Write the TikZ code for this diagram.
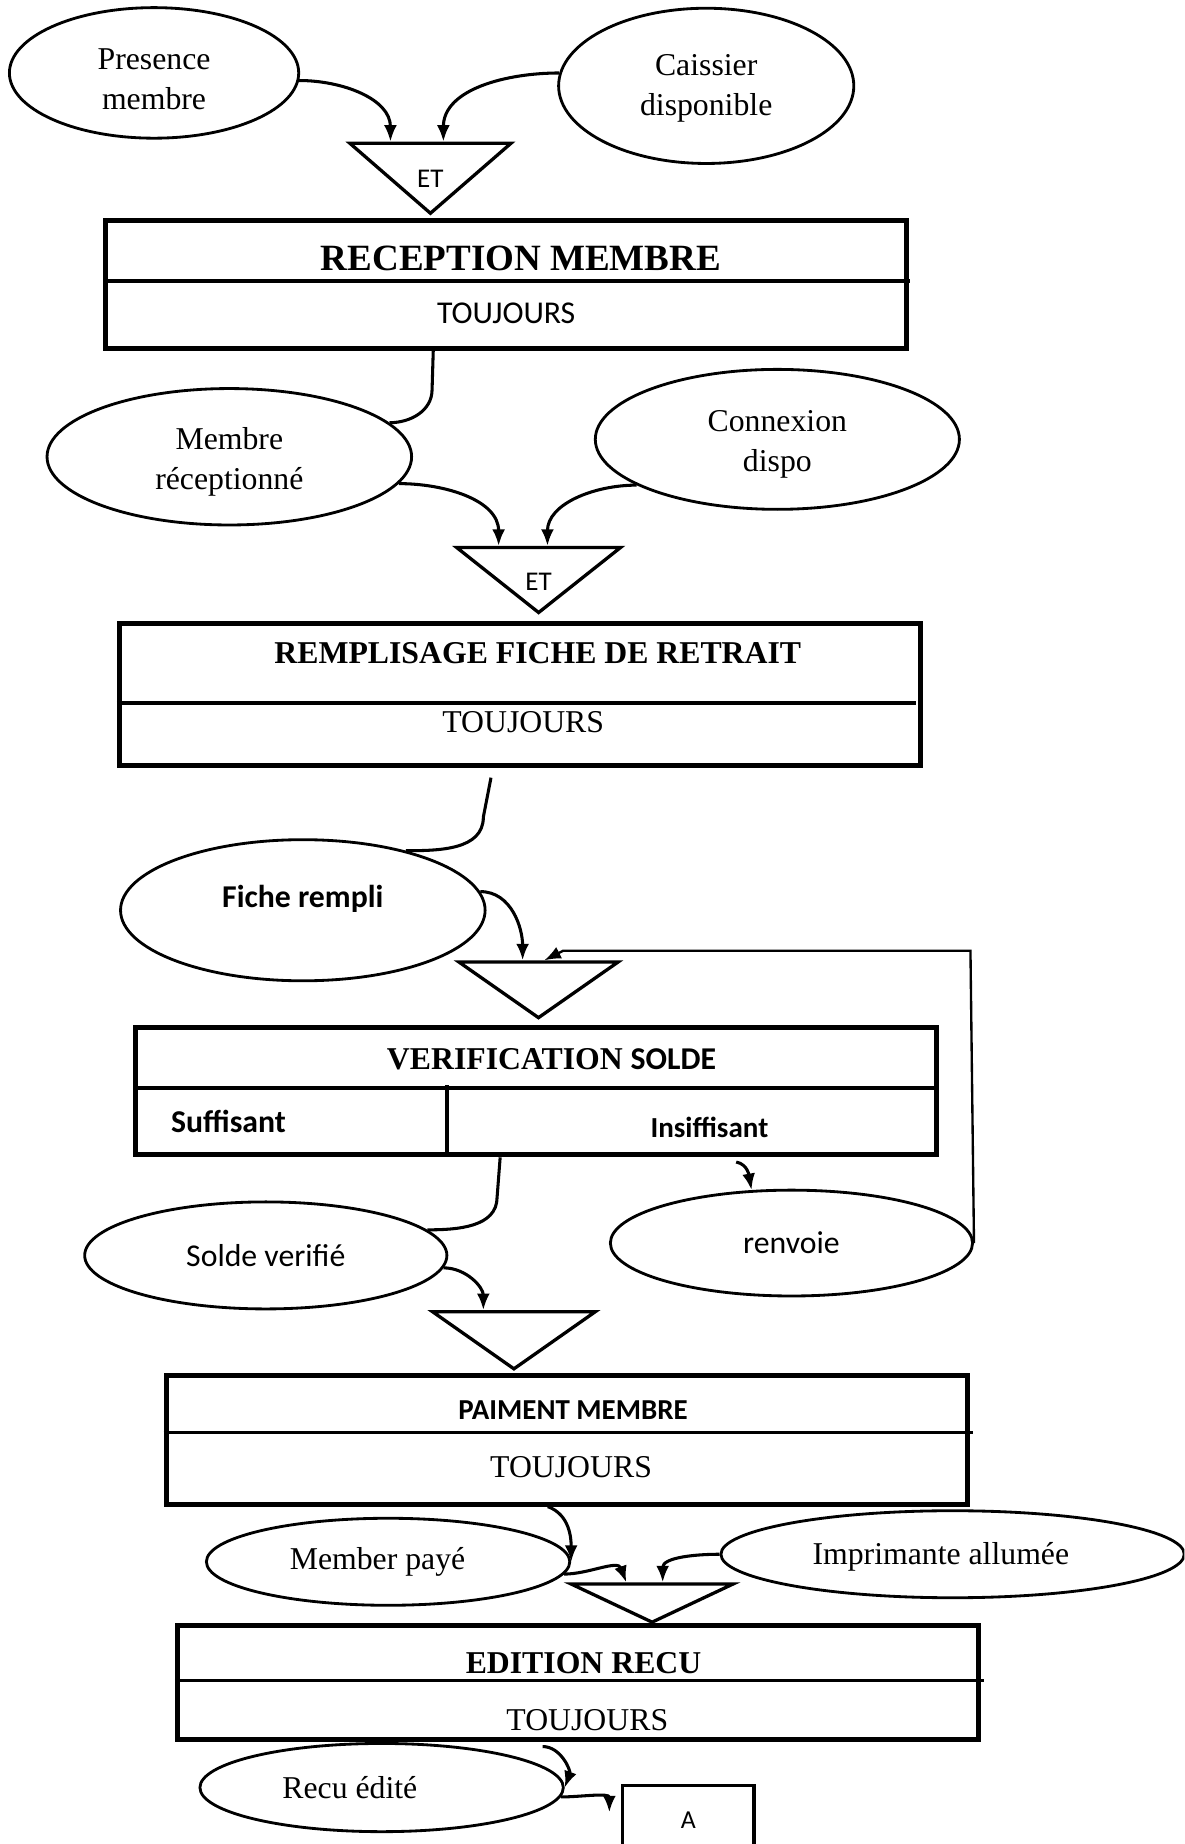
\documentclass[tikz,border=0pt]{standalone}
\usepackage{fontspec}
\setmainfont{Liberation Serif}
\newfontfamily\calibri{Carlito}
\usetikzlibrary{shapes.geometric,arrows.meta}

\begin{document}
\begin{tikzpicture}[x=1pt, y=-1pt,
  font=\fontsize{27}{34}\selectfont,
  etat/.style={ellipse, draw, line width=2.4pt, align=center, inner sep=0pt},
  porte/.style={isosceles triangle, isosceles triangle stretches,
    shape border rotate=270, draw, line width=2.8pt, inner sep=0pt, anchor=apex},
  et/.style={font=\calibri\fontsize{23}{25}\selectfont},
  boite/.style={rectangle, draw, line width=4.2pt, minimum width=681pt, inner sep=0pt},
  trait/.style={line width=3pt},
  titre/.style={font=\bfseries\fontsize{27}{30}\selectfont},
  cal/.style={font=\calibri\fontsize{27}{30}\selectfont},
  calgras/.style={font=\calibri\bfseries\fontsize{27}{30}\selectfont},
  lien/.style={line width=2.6pt},
  fleche/.style={line width=2.6pt, -{Latex[length=14pt,width=11pt]}}]

\path[use as bounding box, clip] (0,0) rectangle (1007,1568);

% reception
\node[etat, minimum width=246pt, minimum height=111pt,
      label={[align=center, yshift=-5pt]center:Presence\\membre}] (pres) at (131,62) {};
\node[etat, minimum width=251pt, minimum height=132pt,
      label={[align=center, yshift=-2pt]center:Caissier\\disponible}] (cais) at (600.5,73) {};
\node[porte, minimum width=137pt, minimum height=59.5pt] (g1) at (366,185) {};
\coordinate (g1top) at (g1.apex |- g1.left corner);
\node[et] (et1) at ([yshift=-32pt]g1top) {ET};

\node[boite, minimum height=109pt] (rec) at (430.4,241.7) {};
\node[font=\bfseries\fontsize{31.5}{34}\selectfont] (rect) at (443,219.7) {RECEPTION MEMBRE};
\draw[trait] (rec.west |- 0,239) -- (774,239);
\node[cal] (rect2) at (430.4,266.5) {TOUJOURS};

\draw[fleche] (pres.-3) to[out=0,in=90] ([xshift=-34pt]g1top);
\draw[fleche] (cais.175) to[out=180,in=90] ([xshift=11pt]g1top);

% remplissage
\node[etat, minimum width=310pt, minimum height=116pt,
      label={[align=center, yshift=-4pt]center:Membre\\réceptionné}] (memb) at (195,388.4) {};
\node[etat, minimum width=309.6pt, minimum height=119pt,
      label={[align=center, yshift=-4pt]center:Connexion\\dispo}] (conn) at (661,373.6) {};
\node[porte, minimum width=139.4pt, minimum height=55.3pt] (g2) at (458,524.5) {};
\coordinate (g2top) at (g2.apex |- g2.left corner);
\node[et] (et2) at ([yshift=-31pt]g2top) {ET};

\node[boite, minimum height=120.5pt] (rem) at (442,590.4) {};
\node[titre] (remt) at (457.3,555.1) {REMPLISAGE FICHE DE RETRAIT};
\draw[trait] (rem.west |- 0,597.6) -- (778.5,597.6);
\node (remt2) at (444.9,613.8) {TOUJOURS};

\draw[lien] ([xshift=-62pt]rec.south) -- ++(-1,33) to[out=-90,in=0] (memb.12);
\draw[fleche] (memb.-9) to[out=0,in=90] ([xshift=-34pt]g2top);
\draw[fleche] (conn.198) to[out=180,in=90] ([xshift=7.5pt]g2top);

% verification
\node[etat, minimum width=310pt, minimum height=120pt,
      label={[calgras, yshift=10pt]center:Fiche rempli}] (fich) at (257.5,774) {};
\node[porte, minimum width=135.6pt, minimum height=47.4pt] (g3) at (457.9,869) {};
\coordinate (g3top) at (g3.apex |- g3.left corner);

\node[boite, minimum height=108.4pt] (ver) at (456,927.8) {};
\node (vert) at (469,900.6) {\bfseries VERIFICATION {\calibri SOLDE}};
\draw[trait] (ver.west |- 0,925) -- (ver.east |- 0,925);
\draw[trait] (380.3,922.6) -- (ver.south -| 380.3,0);
\node[calgras] (suf) at (194.3,953.3) {Suffisant};
\node[font=\calibri\bfseries\fontsize{24.7}{28}\selectfont] (insuf) at (603.2,958.6) {Insiffisant};

\node[etat, cal, minimum width=308pt, minimum height=91pt] (sold) at (226,1067.5) {Solde verifié};
\node[etat, cal, minimum width=308pt, minimum height=90pt] (renv) at (673,1057) {renvoie};

\draw[lien] ([xshift=-24.5pt,yshift=-8.5pt]rem.south) -- ++(-6.5,33.5) to[out=-90,in=0] (fich.30);
\draw[fleche] (fich.6) to[out=0,in=90] ([xshift=-13.5pt]g3top);
\draw[fleche, line width=2pt] (renv.east) -- ++(-3,-248.5) -- ++(-346.5,0) -- ([xshift=5pt]g3top);
\draw[lien] ([xshift=-30.7pt]ver.south) -- ++(-2.6,33.8) to[out=-90,in=0] (sold.9);
\draw[fleche] ([xshift=170pt,yshift=-4pt]ver.south) to[out=-10,in=100] (renv.127);

% paiement
\node[porte, minimum width=138.5pt, minimum height=48.6pt] (g4) at (437,1167.6) {};
\coordinate (g4top) at (g4.apex |- g4.left corner);
\draw[fleche] (sold.-4) to[out=0,in=90] ([xshift=-26pt]g4top);

\node[boite, minimum height=109.4pt] (pai) at (481.8,1224.3) {};
\node[font=\calibri\bfseries\fontsize{24.6}{28}\selectfont] (pait) at (487.3,1199) {PAIMENT MEMBRE};
\draw[trait] (pai.west |- 0,1218) -- (827.3,1218);
\node (pait2) at (485.6,1247.7) {TOUJOURS};

% edition
\node[etat, minimum width=309pt, minimum height=74pt,
      label={[xshift=-9pt]center:Member payé}] (pay) at (330,1328) {};
\node[etat, minimum width=394pt, minimum height=74pt,
      label={[xshift=-10pt, yshift=-2pt]center:Imprimante allumée}] (impr) at (810,1321.6) {};
\node[porte, minimum width=138pt, minimum height=32.5pt] (g5) at (554.5,1383) {};
\coordinate (g5top) at (g5.apex |- g5.left corner);

\draw[fleche] ([xshift=-16pt]pai.south) to[out=-20,in=90] (pay.east);
\draw[fleche] (pay.-4) to[out=0,in=110] ([xshift=-22pt]g5top);
\draw[fleche] (impr.west) to[out=180,in=90] ([xshift=9pt]g5top);

\node[boite, minimum height=97pt] (edi) at (491.4,1430.5) {};
\node[titre] (edit) at (496.2,1414) {EDITION RECU};
\draw[trait] (edi.west |- 0,1429) -- (837,1429);
\node (edit2) at (499.4,1462.4) {TOUJOURS};

\node[etat, minimum width=309pt, minimum height=75pt,
      label={[xshift=-27pt]center:Recu édité}] (recu) at (324.5,1520) {};
\node[draw, line width=2.8pt, minimum width=111.5pt, minimum height=60pt,
      font=\calibri\fontsize{22}{24}\selectfont] (a) at (585.3,1548) {A};

\draw[fleche] ([xshift=-30pt,yshift=-4pt]edi.south) to[out=0,in=70] (recu.east);
\draw[fleche] (recu.-3) to[out=0,in=90] ([xshift=-10pt,yshift=7pt]a.west);

\end{tikzpicture}
\end{document}
